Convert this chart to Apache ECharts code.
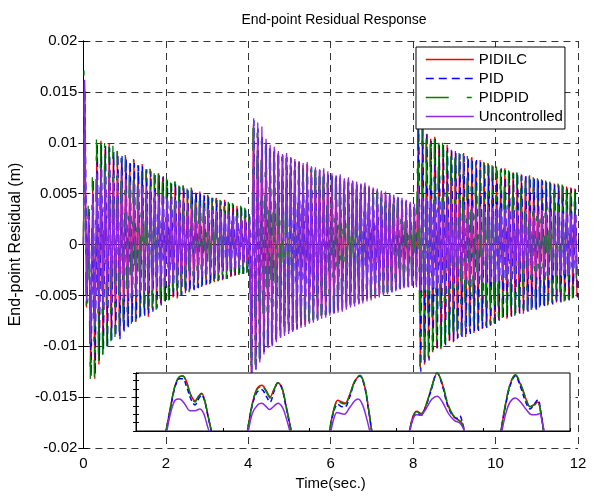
<!DOCTYPE html>
<html>
<head>
<meta charset="utf-8">
<script src="https://cdn.jsdelivr.net/npm/echarts/dist/echarts.min.js"></script>
<style>
  html, body { margin: 0; padding: 0; background: #fff; }
  #chart { width: 594px; height: 498px; }
</style>
</head>
<body>
<div id="chart"></div>
<script>
// peaks (hi) and troughs (lo) of each oscillation cycle, unit 1e-4 m, one row per second
const cycleSec = 0.1;

const pidilcHi = [
  158, 34, 62, 96, 102, 94, 99, 88, 92, 85,
  86, 80, 83, 76, 79, 72, 74, 68, 70, 66,
  64, 60, 62, 57, 58, 54, 55, 51, 52, 49,
  48, 45, 46, 43, 44, 41, 40, 38, 37, 35,
  30, 118, 112, 104, 98, 95, 92, 90, 87, 88,
  84, 82, 80, 78, 79, 75, 74, 72, 73, 70,
  68, 66, 67, 63, 64, 61, 60, 58, 59, 56,
  54, 53, 51, 50, 48, 47, 45, 44, 42, 40,
  36, 112, 116, 108, 104, 106, 100, 96, 98, 93,
  92, 88, 90, 85, 86, 82, 83, 80, 79, 77,
  76, 74, 75, 72, 71, 70, 69, 67, 68, 65,
  64, 63, 62, 61, 60, 59, 58, 57, 56, 55
];
const pidilcLo = [
  -62, -126, -132, -118, -108, -96, -92, -88, -90, -84,
  -80, -74, -76, -70, -68, -71, -64, -62, -58, -55,
  -54, -52, -53, -49, -48, -46, -44, -42, -41, -40,
  -38, -37, -36, -35, -33, -32, -31, -30, -28, -27,
  -128, -120, -114, -106, -100, -98, -94, -90, -88, -86,
  -85, -82, -80, -79, -76, -75, -73, -71, -70, -68,
  -67, -65, -64, -62, -60, -59, -57, -56, -54, -53,
  -52, -50, -49, -48, -46, -45, -43, -42, -41, -40,
  -40, -122, -118, -112, -106, -102, -103, -98, -95, -96,
  -93, -90, -91, -86, -87, -84, -83, -81, -80, -78,
  -74, -72, -73, -70, -69, -67, -68, -65, -64, -63,
  -61, -60, -59, -58, -57, -56, -55, -54, -52, -51
];

const pidHi = [
  152, 36, 64, 100, 98, 97, 95, 91, 89, 87,
  84, 82, 80, 78, 77, 74, 72, 70, 68, 67,
  63, 62, 60, 58, 57, 55, 53, 52, 50, 48,
  47, 46, 44, 43, 42, 40, 39, 37, 36, 34,
  28, 122, 114, 106, 100, 96, 93, 89, 88, 86,
  85, 81, 81, 77, 78, 76, 73, 73, 71, 70,
  67, 67, 65, 64, 62, 62, 59, 59, 57, 56,
  55, 52, 52, 49, 49, 46, 46, 43, 43, 40,
  38, 120, 114, 110, 102, 104, 98, 98, 95, 94,
  90, 89, 87, 86, 84, 83, 81, 80, 78, 77,
  75, 75, 73, 72, 70, 70, 68, 67, 66, 65,
  63, 63, 61, 60, 59, 58, 57, 56, 55, 54
];
const pidLo = [
  -58, -130, -128, -114, -104, -100, -94, -90, -93, -86,
  -82, -76, -73, -72, -70, -68, -66, -63, -60, -56,
  -55, -53, -51, -50, -47, -46, -45, -43, -40, -39,
  -39, -36, -35, -34, -34, -31, -30, -29, -29, -26,
  -126, -124, -112, -108, -98, -99, -93, -91, -87, -87,
  -84, -83, -79, -78, -77, -74, -74, -70, -71, -67,
  -68, -64, -65, -61, -61, -58, -58, -55, -55, -52,
  -53, -49, -50, -47, -47, -44, -44, -41, -42, -39,
  -38, -125, -116, -114, -104, -104, -100, -99, -94, -95,
  -92, -91, -88, -88, -85, -85, -82, -82, -79, -79,
  -75, -73, -72, -71, -68, -68, -66, -66, -63, -64,
  -60, -61, -58, -59, -56, -57, -55, -55, -53, -52
];

const pidpidHi = [
  175, 38, 66, 104, 100, 103, 96, 97, 92, 88,
  88, 82, 84, 78, 80, 74, 75, 70, 71, 66,
  65, 61, 62, 58, 59, 55, 56, 52, 52, 50,
  49, 46, 46, 44, 44, 42, 41, 39, 38, 36,
  30, 116, 110, 102, 97, 94, 91, 88, 86, 85,
  83, 81, 79, 77, 77, 74, 73, 71, 71, 69,
  67, 65, 65, 62, 62, 60, 59, 57, 57, 55,
  53, 52, 50, 49, 47, 46, 44, 43, 41, 39,
  37, 118, 120, 112, 108, 104, 102, 100, 96, 95,
  94, 90, 89, 87, 85, 84, 82, 81, 80, 78,
  77, 75, 74, 73, 72, 71, 70, 68, 67, 66,
  65, 64, 63, 62, 61, 60, 59, 58, 57, 56
];
const pidpidLo = [
  -64, -135, -130, -120, -110, -100, -95, -91, -88, -85,
  -82, -78, -76, -72, -70, -69, -65, -64, -59, -57,
  -55, -53, -52, -50, -48, -47, -45, -43, -42, -40,
  -39, -38, -36, -35, -34, -33, -31, -30, -29, -28,
  -124, -118, -112, -104, -99, -96, -93, -89, -87, -85,
  -84, -81, -79, -78, -75, -74, -72, -70, -69, -67,
  -66, -64, -63, -61, -59, -58, -56, -55, -53, -52,
  -51, -49, -48, -47, -45, -44, -42, -41, -40, -39,
  -41, -120, -120, -110, -108, -100, -102, -97, -96, -94,
  -92, -89, -90, -86, -86, -83, -83, -80, -80, -77,
  -75, -72, -72, -69, -70, -66, -67, -64, -64, -62,
  -62, -59, -60, -57, -58, -55, -56, -53, -53, -50
];

const uncHi = [
  162, 28, 50, 70, 76, 72, 74, 68, 70, 65,
  64, 62, 60, 58, 57, 55, 54, 52, 50, 48,
  46, 45, 44, 43, 42, 41, 40, 39, 38, 36,
  35, 34, 33, 33, 31, 30, 29, 28, 27, 26,
  24, 124, 120, 116, 104, 98, 96, 92, 89, 90,
  86, 84, 82, 80, 81, 77, 76, 74, 75, 72,
  70, 68, 69, 65, 66, 63, 62, 60, 61, 58,
  56, 55, 53, 52, 50, 49, 47, 46, 44, 42,
  40, 58, 46, 45, 44, 43, 44, 42, 41, 42,
  40, 41, 39, 40, 38, 39, 37, 38, 37, 36,
  37, 36, 35, 36, 35, 34, 35, 34, 33, 34,
  33, 34, 33, 32, 33, 32, 31, 32, 31, 30
];
const uncLo = [
  -56, -96, -80, -66, -62, -60, -58, -56, -57, -54,
  -53, -51, -50, -48, -47, -46, -45, -44, -42, -41,
  -40, -39, -38, -37, -36, -35, -34, -33, -32, -31,
  -30, -29, -28, -27, -26, -25, -24, -23, -22, -21,
  -136, -122, -116, -108, -102, -100, -96, -92, -90, -88,
  -86, -84, -82, -81, -78, -77, -75, -73, -72, -70,
  -68, -67, -66, -64, -62, -61, -59, -58, -56, -55,
  -53, -52, -50, -49, -47, -46, -44, -43, -42, -41,
  -42, -46, -44, -45, -43, -44, -42, -43, -41, -42,
  -40, -41, -39, -40, -38, -39, -37, -38, -36, -37,
  -36, -35, -36, -34, -35, -33, -34, -33, -32, -33,
  -32, -31, -32, -30, -31, -30, -29, -30, -29, -28
];

// time shift of each run, sec
const phaseSec = [0, 0.012, -0.01, 0.005];

// inset: zoomed humps, [x, y] in inset units (5 humps each)
const insetPidilc = [
  [[0.68,-0.05],[0.78,0.35],[0.9,0.78],[1.0,0.93],[1.08,0.95],[1.16,0.86],[1.26,0.63],[1.36,0.52],[1.44,0.6],[1.51,0.65],[1.58,0.54],[1.66,0.26],[1.75,-0.05]],
  [[2.56,-0.05],[2.66,0.4],[2.78,0.72],[2.9,0.79],[3.0,0.7],[3.09,0.59],[3.18,0.72],[3.27,0.83],[3.36,0.75],[3.46,0.42],[3.59,-0.05]],
  [[4.45,-0.05],[4.55,0.35],[4.65,0.53],[4.74,0.5],[4.82,0.48],[4.92,0.62],[5.04,0.86],[5.16,0.95],[5.26,0.8],[5.35,0.42],[5.44,-0.05]],
  [[6.29,-0.05],[6.38,0.25],[6.47,0.34],[6.57,0.3],[6.66,0.4],[6.8,0.72],[6.94,1.0],[7.06,0.8],[7.18,0.46],[7.3,0.27],[7.4,0.2],[7.5,0.14],[7.58,-0.05]],
  [[8.4,-0.05],[8.5,0.4],[8.62,0.8],[8.74,0.96],[8.86,0.8],[8.98,0.56],[9.08,0.42],[9.18,0.46],[9.26,0.5],[9.33,0.3],[9.4,-0.05]]
];
const insetPid = [
  [[0.68,-0.05],[0.78,0.33],[0.9,0.76],[1.0,0.9],[1.08,0.9],[1.16,0.78],[1.26,0.56],[1.36,0.45],[1.44,0.55],[1.51,0.62],[1.58,0.52],[1.66,0.25],[1.75,-0.05]],
  [[2.56,-0.05],[2.66,0.38],[2.78,0.66],[2.9,0.71],[3.0,0.6],[3.09,0.5],[3.18,0.68],[3.27,0.83],[3.36,0.74],[3.46,0.4],[3.59,-0.05]],
  [[4.45,-0.05],[4.55,0.32],[4.65,0.46],[4.74,0.42],[4.82,0.42],[4.92,0.58],[5.04,0.84],[5.16,0.95],[5.26,0.78],[5.35,0.4],[5.44,-0.05]],
  [[6.29,-0.05],[6.38,0.22],[6.47,0.3],[6.57,0.27],[6.66,0.38],[6.8,0.7],[6.94,1.0],[7.06,0.78],[7.18,0.44],[7.3,0.26],[7.4,0.22],[7.46,0.26],[7.52,0.15],[7.58,-0.05]],
  [[8.4,-0.05],[8.5,0.38],[8.62,0.78],[8.74,0.95],[8.86,0.76],[8.98,0.5],[9.08,0.38],[9.18,0.47],[9.26,0.54],[9.33,0.32],[9.4,-0.05]]
];
const insetPidpid = [
  [[0.68,-0.05],[0.78,0.35],[0.9,0.79],[1.0,0.94],[1.08,0.95],[1.16,0.85],[1.26,0.62],[1.36,0.5],[1.44,0.59],[1.51,0.64],[1.58,0.53],[1.66,0.26],[1.75,-0.05]],
  [[2.56,-0.05],[2.66,0.4],[2.78,0.71],[2.9,0.77],[3.0,0.68],[3.09,0.57],[3.18,0.71],[3.27,0.83],[3.36,0.76],[3.46,0.43],[3.59,-0.05]],
  [[4.45,-0.05],[4.55,0.34],[4.65,0.51],[4.74,0.48],[4.82,0.47],[4.92,0.61],[5.04,0.86],[5.16,0.96],[5.26,0.81],[5.35,0.43],[5.44,-0.05]],
  [[6.29,-0.05],[6.38,0.24],[6.47,0.33],[6.57,0.29],[6.66,0.4],[6.8,0.73],[6.94,1.0],[7.06,0.82],[7.18,0.48],[7.3,0.28],[7.4,0.21],[7.5,0.15],[7.58,-0.05]],
  [[8.4,-0.05],[8.5,0.41],[8.62,0.81],[8.74,0.97],[8.86,0.82],[8.98,0.57],[9.08,0.42],[9.18,0.45],[9.26,0.49],[9.33,0.3],[9.4,-0.05]]
];
const insetUnc = [
  [[0.7,-0.05],[0.8,0.32],[0.9,0.53],[1.0,0.55],[1.12,0.47],[1.24,0.35],[1.36,0.35],[1.47,0.38],[1.56,0.3],[1.64,0.1],[1.7,-0.05]],
  [[2.58,-0.05],[2.68,0.3],[2.8,0.45],[2.9,0.48],[3.0,0.42],[3.08,0.37],[3.18,0.43],[3.27,0.48],[3.38,0.4],[3.47,0.2],[3.56,-0.05]],
  [[4.48,-0.05],[4.56,0.22],[4.63,0.32],[4.72,0.3],[4.8,0.29],[4.92,0.4],[5.04,0.52],[5.12,0.55],[5.22,0.45],[5.32,0.2],[5.4,-0.05]],
  [[6.3,-0.05],[6.38,0.2],[6.46,0.28],[6.56,0.27],[6.68,0.38],[6.82,0.55],[6.94,0.6],[7.06,0.5],[7.2,0.3],[7.34,0.18],[7.46,0.14],[7.54,0.05],[7.58,-0.05]],
  [[8.42,-0.05],[8.52,0.3],[8.62,0.5],[8.74,0.57],[8.86,0.5],[9.0,0.36],[9.12,0.28],[9.22,0.28],[9.3,0.3],[9.36,0.15],[9.42,-0.05]]
];

const names = ['PIDILC', 'PID', 'PIDPID', 'Uncontrolled'];
const colors = ['#ff0000', '#0000ff', '#007f00', '#8a2be2'];
const dashes = ['solid', [8, 5], [23, 18, 5, 18], 'solid'];
const mainHi = [pidilcHi, pidHi, pidpidHi, uncHi];
const mainLo = [pidilcLo, pidLo, pidpidLo, uncLo];
const insetData = [insetPidilc, insetPid, insetPidpid, insetUnc];

const font = 'Liberation Sans, Arial, sans-serif';

// build the zig-zag trace from the cycle peaks
function buildTrace(hi, lo, phase) {
  const pts = [[0, 0]];
  for (let k = 0; k < hi.length; k++) {
    pts.push([k * cycleSec + 0.025 + phase, hi[k] / 1e4]);
    pts.push([k * cycleSec + 0.075 + phase, lo[k] / 1e4]);
  }
  return pts;
}

const series = [];
names.forEach((name, i) => {
  series.push({
    name: name,
    type: 'line',
    xAxisIndex: 0,
    yAxisIndex: 0,
    data: buildTrace(mainHi[i], mainLo[i], phaseSec[i]),
    symbol: 'none',
    color: colors[i],
    lineStyle: { width: 1.3, type: dashes[i], color: colors[i] },
    z: 2,
    silent: true
  });
});
names.forEach((name, i) => {
  insetData[i].forEach(hump => {
    series.push({
      name: name,
      type: 'line',
      xAxisIndex: 2,
      yAxisIndex: 2,
      data: hump,
      smooth: 0.35,
      symbol: 'none',
      color: colors[i],
      lineStyle: { width: 1.5, type: i === 1 ? [5, 3] : (i === 2 ? [14, 4] : 'solid'), color: colors[i] },
      z: 7,
      silent: true
    });
  });
});

const tickInside = { show: true, inside: true, length: 5, lineStyle: { color: '#000' } };
const blackLine = { show: true, lineStyle: { color: '#000', width: 1 } };
const gridDash = { show: true, lineStyle: { color: '#333', type: [7, 5], width: 1 } };

const chart = echarts.init(document.getElementById('chart'), null, { renderer: 'canvas' });
chart.setOption({
  animation: false,
  backgroundColor: '#fff',
  textStyle: { fontFamily: font },
  title: {
    text: 'End-point Residual Response',
    left: 329,
    top: 8,
    textAlign: 'center',
    textStyle: { fontFamily: font, fontSize: 14, fontWeight: 'normal', color: '#000' }
  },
  legend: {
    data: names.map((n, i) => ({
      name: n,
      itemStyle: { opacity: 0 },
      lineStyle: { color: colors[i], width: 1.5, type: dashes[i], opacity: 1 }
    })),
    orient: 'vertical',
    left: 416,
    top: 47,
    padding: [5, 2, 5, 9],
    itemWidth: 48,
    itemHeight: 14,
    itemGap: 4,
    backgroundColor: '#fff',
    borderColor: '#000',
    borderWidth: 1,
    borderRadius: 0,
    selectedMode: false,
    textStyle: { fontFamily: font, fontSize: 15, color: '#000' },
    z: 20
  },
  grid: [
    { left: 81, top: 41, width: 497, height: 407, containLabel: false },
    { left: 136, top: 373, width: 434, height: 58, show: true, backgroundColor: '#fff', borderColor: '#000', borderWidth: 1, z: 5 }
  ],
  xAxis: [
    {
      gridIndex: 0, type: 'value', min: 0, max: 12, interval: 2,
      axisLine: blackLine, axisTick: tickInside, splitLine: gridDash,
      axisLabel: { color: '#000', fontSize: 15, fontFamily: font, margin: 8 },
      name: 'Time(sec.)', nameLocation: 'middle', nameGap: 28,
      nameTextStyle: { color: '#000', fontSize: 15, fontFamily: font }
    },
    {
      gridIndex: 0, type: 'value', position: 'top', min: 0, max: 12, interval: 2,
      axisLine: blackLine, axisTick: tickInside, splitLine: { show: false }, axisLabel: { show: false }
    },
    {
      gridIndex: 1, type: 'value', min: 0, max: 10, interval: 2, z: 8,
      axisLine: blackLine, axisTick: { show: true, inside: true, length: 3, lineStyle: { color: '#000' } },
      splitLine: { show: false }, axisLabel: { show: false }
    },
    {
      gridIndex: 1, type: 'value', position: 'top', min: 0, max: 10, interval: 2, z: 8,
      axisLine: blackLine, axisTick: { show: false }, splitLine: { show: false }, axisLabel: { show: false }
    }
  ],
  yAxis: [
    {
      gridIndex: 0, type: 'value', min: -0.02, max: 0.02, interval: 0.005,
      axisLine: blackLine, axisTick: tickInside, splitLine: gridDash,
      axisLabel: {
        color: '#000', fontSize: 15, fontFamily: font, margin: 6,
        formatter: v => String(parseFloat(v.toFixed(3)))
      },
      name: 'End-point Residual (m)', nameLocation: 'middle', nameGap: 56,
      nameTextStyle: { color: '#000', fontSize: 16, fontFamily: font }
    },
    {
      gridIndex: 0, type: 'value', position: 'right', min: -0.02, max: 0.02, interval: 0.005,
      axisLine: blackLine, axisTick: tickInside, splitLine: { show: false }, axisLabel: { show: false }
    },
    {
      gridIndex: 1, type: 'value', min: 0, max: 1, interval: 0.145, z: 8,
      axisLine: blackLine, axisTick: { show: true, inside: true, length: 3, lineStyle: { color: '#000' } },
      splitLine: { show: false }, axisLabel: { show: false }
    },
    {
      gridIndex: 1, type: 'value', position: 'right', min: 0, max: 1, interval: 0.145, z: 8,
      axisLine: blackLine, axisTick: { show: true, inside: true, length: 3, lineStyle: { color: '#000' } },
      splitLine: { show: false }, axisLabel: { show: false }
    }
  ],
  series: series
});
</script>
</body>
</html>
